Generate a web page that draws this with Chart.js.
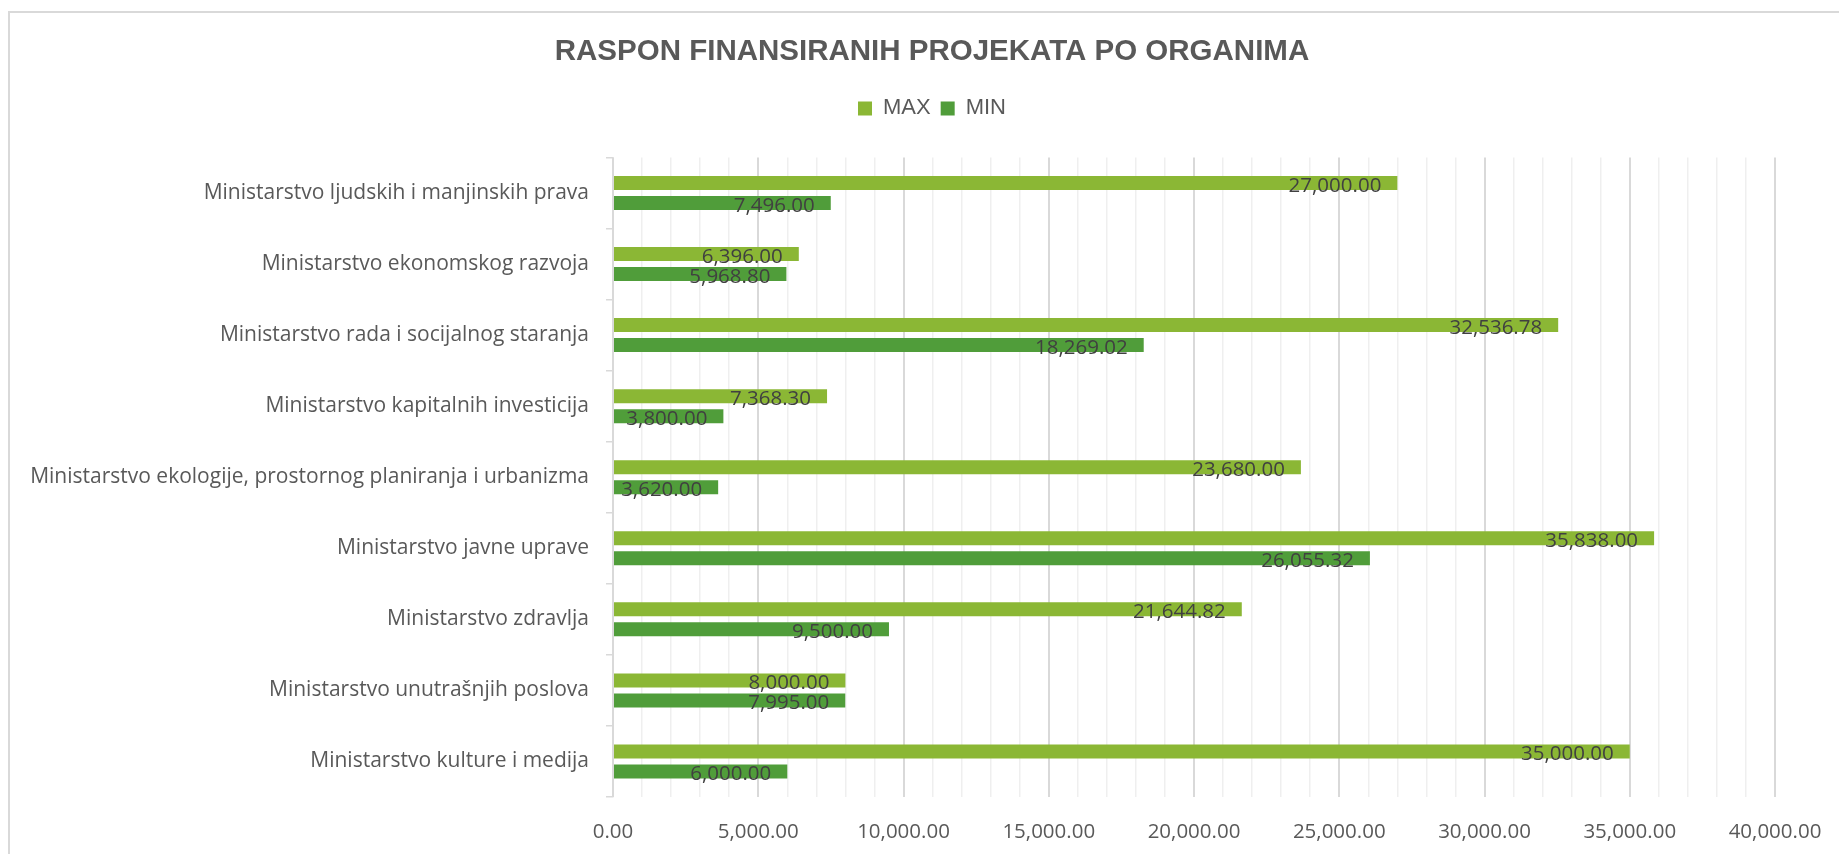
<!DOCTYPE html>
<html>
<head>
<meta charset="utf-8">
<script src="https://cdn.jsdelivr.net/npm/chart.js@4.4.1/dist/chart.umd.min.js"></script>
<style>
  html, body { margin: 0; padding: 0; background: #fff; overflow: hidden; }
  .frame { position: absolute; left: 8px; top: 11px; width: 1900px; height: 900px; border: 2px solid #d9d9d9; }
  .wrap { position: absolute; left: 0; top: 0; width: 1839px; height: 854px; }
</style>
</head>
<body>
<div class="frame"></div>
<div class="wrap"><canvas id="chart" width="1839" height="854"></canvas></div>
<script>
const categories = [
    'Ministarstvo ljudskih i manjinskih prava',
    'Ministarstvo ekonomskog razvoja',
    'Ministarstvo rada i socijalnog staranja',
    'Ministarstvo kapitalnih investicija',
    'Ministarstvo ekologije, prostornog planiranja i urbanizma',
    'Ministarstvo javne uprave',
    'Ministarstvo zdravlja',
    'Ministarstvo unutrašnjih poslova',
    'Ministarstvo kulture i medija'
];
const maxValues = [27000, 6396, 32536.78, 7368.30, 23680, 35838, 21644.82, 8000, 35000];
const minValues = [7496, 5968.80, 18269.02, 3800, 3620, 26055.32, 9500, 7995, 6000];

const titleText = 'RASPON FINANSIRANIH PROJEKATA PO ORGANIMA';
const axisMin = 0;
const axisMax = 40000;
const minorStep = 1000;
const majorStep = 5000;

function fmt(v) {
    return Number(v).toLocaleString('en-US', { minimumFractionDigits: 2, maximumFractionDigits: 2 });
}

// value labels drawn near the end of each bar
const barLabels = {
    id: 'barLabels',
    afterDatasetsDraw(chart) {
        const ctx = chart.ctx;
        ctx.save();
        ctx.font = '20.5px "Open Sans"';
        ctx.fillStyle = '#404040';
        ctx.textAlign = 'right';
        ctx.textBaseline = 'middle';
        chart.data.datasets.forEach((ds, i) => {
            const meta = chart.getDatasetMeta(i);
            meta.data.forEach((bar, j) => {
                const txt = fmt(ds.data[j]);
                const w = ctx.measureText(txt).width;
                const x = Math.max(bar.x - 16, bar.base + w + 2);
                ctx.fillText(txt, x, bar.y + 3);
            });
        });
        ctx.restore();
    }
};

// let long category names run past the left padding instead of being clipped
const unclipY = {
    id: 'unclipY',
    afterLayout(chart) {
        chart.scales.y.left = 0;
    }
};

Chart.defaults.font.family = '"Open Sans", sans-serif';
Chart.defaults.color = '#595959';

new Chart(document.getElementById('chart'), {
    type: 'bar',
    data: {
        labels: categories,
        datasets: [
            {
                label: 'MAX',
                data: maxValues,
                backgroundColor: '#8bb735',
                borderWidth: 0,
                categoryPercentage: 0.563,
                barPercentage: 0.7
            },
            {
                label: 'MIN',
                data: minValues,
                backgroundColor: '#509d3a',
                borderWidth: 0,
                categoryPercentage: 0.563,
                barPercentage: 0.7
            }
        ]
    },
    options: {
        indexAxis: 'y',
        responsive: false,
        animation: false,
        layout: { padding: { left: 89, right: 64, top: 0, bottom: 0 } },
        scales: {
            x: {
                min: axisMin,
                max: axisMax,
                afterFit: s => { s.height = 57; },
                ticks: {
                    stepSize: minorStep,
                    autoSkip: false,
                    maxRotation: 0,
                    padding: 16,
                    color: '#595959',
                    font: { size: 20.5 },
                    callback: v => (v % majorStep === 0 ? fmt(v) : '')
                },
                grid: {
                    drawTicks: true,
                    tickLength: 7,
                    tickColor: 'rgba(0,0,0,0)',
                    color: c => (c.tick && c.tick.value % majorStep === 0 ? '#d9d9d9' : '#efefef'),
                    lineWidth: c => (c.tick && c.tick.value % majorStep === 0 ? 2 : 1.5)
                },
                border: { display: false }
            },
            xTop: {
                position: 'top',
                axis: 'x',
                afterFit: s => { s.height = 28; },
                ticks: { display: false },
                grid: { display: false },
                border: { display: false }
            },
            y: {
                afterFit: s => { s.width = 524; },
                ticks: {
                    padding: 17,
                    color: '#595959',
                    font: { size: 21 }
                },
                grid: {
                    drawOnChartArea: false,
                    drawTicks: true,
                    tickLength: 7,
                    color: '#d9d9d9',
                    lineWidth: 1.5
                },
                border: { display: true, color: '#d9d9d9', width: 1.5 }
            }
        },
        plugins: {
            title: {
                display: true,
                text: titleText,
                color: '#595959',
                font: { family: '"Liberation Sans", Arial, sans-serif', size: 29.5, weight: 'bold' },
                padding: { top: 34, bottom: 18 }
            },
            legend: {
                display: true,
                position: 'top',
                labels: {
                    color: '#595959',
                    font: { family: '"Liberation Sans", Arial, sans-serif', size: 22 },
                    boxWidth: 14,
                    boxHeight: 14,
                    padding: 10
                }
            },
            tooltip: { enabled: false }
        }
    },
    plugins: [barLabels, unclipY]
});
</script>
</body>
</html>
